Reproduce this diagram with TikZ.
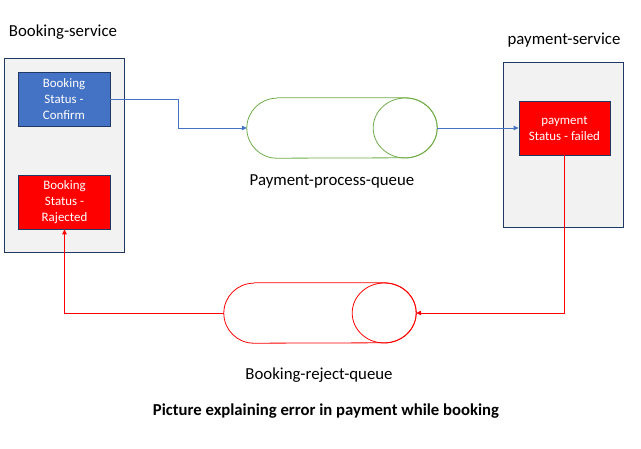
\documentclass[tikz,border=0pt]{standalone}
\usepackage{fontspec}
\setmainfont{Carlito}
\usetikzlibrary{arrows.meta,calc}
\definecolor{bluefill}{HTML}{4472C4}
\definecolor{navy}{HTML}{1F3864}
\definecolor{boxgray}{HTML}{F2F2F2}
\definecolor{qgreen}{HTML}{70AD47}
\definecolor{qred}{HTML}{FF0000}
\begin{document}
\begin{tikzpicture}[x=1pt,y=-1pt,
  svc/.style={draw=navy,fill=boxgray,line width=0.8pt,inner sep=0pt},
  status/.style={draw=navy,line width=0.8pt,inner sep=0pt,text=white,align=center,
    font=\fontsize{12.9}{16}\selectfont,minimum width=92pt,minimum height=54pt},
  lbl/.style={font=\fontsize{16.8}{19}\selectfont,inner sep=0pt},
  qnode/.style={inner sep=0pt,minimum width=190pt,minimum height=60pt},
  bluearrow/.style={draw=bluefill,line width=0.8pt,-{Triangle[length=5pt,width=4.5pt]}},
  redarrow/.style={draw=qred,line width=0.8pt,-{Triangle[length=5pt,width=4.5pt]}}]
\useasboundingbox[fill=white] (0,0) rectangle (641,449);
% services
\node[svc,minimum width=120pt,minimum height=194pt] (bs) at (64,155) {};
\node[svc,minimum width=120pt,minimum height=165pt] (ps) at (563,144.5) {};
\node[lbl] (bslbl) at (63,32) {Booking-service};
\node[lbl] (pslbl) at (564,40) {payment-service};
% status boxes
\node[status,fill=bluefill] (confirm) at (64,99) {Booking\\Status -\\Confirm};
\node[status,fill=qred] (rejected) at (64.5,202) {Booking\\Status -\\Rajected};
\node[status,fill=qred,minimum width=91pt] (failed) at (564.5,128) {payment\\Status - failed};
% queues
\node[qnode] (ppq) at (342,128) {};
\draw[qgreen,line width=0.8pt] ($(ppq.north west)+(30,0)$) -- ($(ppq.north east)+(-32,0)$)
  arc[start angle=90,end angle=-90,x radius=32pt,y radius=30pt]
  -- ($(ppq.south west)+(30,0)$)
  arc[start angle=270,end angle=90,radius=30pt];
\draw[qgreen,line width=0.8pt] ($(ppq.east)+(-32,0)$) circle[x radius=32pt,y radius=30pt];
\node[lbl] (ppqlbl) at (332,181) {Payment-process-queue};
\node[qnode,minimum width=192pt] (brq) at (320,313) {};
\draw[qred,line width=0.8pt] ($(brq.north west)+(30,0)$) -- ($(brq.north east)+(-32,0)$)
  arc[start angle=90,end angle=-90,x radius=32pt,y radius=30pt]
  -- ($(brq.south west)+(30,0)$)
  arc[start angle=270,end angle=90,radius=30pt];
\draw[qred,line width=0.8pt] ($(brq.east)+(-32,0)$) circle[x radius=32pt,y radius=30pt];
\node[lbl] (brqlbl) at (319,375) {Booking-reject-queue};
% connectors
\draw[bluearrow] (confirm.east) -- ++(68,0) |- (ppq.west);
\draw[bluearrow] (ppq.east) -- (failed.west);
\draw[redarrow] (failed.south) |- (brq.east);
\draw[redarrow] (brq.west) -| (rejected.south);
% title
\node[font=\bfseries\fontsize{16.7}{19}\selectfont,inner sep=0pt] (title) at (326,411) {Picture explaining error in payment while booking};
\end{tikzpicture}
\end{document}
